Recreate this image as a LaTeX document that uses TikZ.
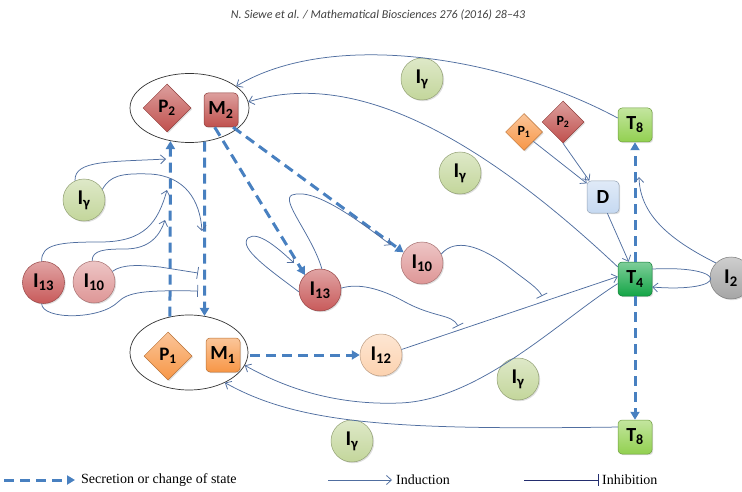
\documentclass[tikz,border=0pt]{standalone}
\usepackage{fontspec}
\setmainfont{Liberation Serif}
\setsansfont{Carlito}
\usetikzlibrary{shapes.geometric,arrows.meta,shadows}

\definecolor{redC}{RGB}{192,80,77}
\definecolor{redI}{RGB}{200,90,90}
\definecolor{pinkC}{RGB}{222,150,150}
\definecolor{orangeC}{RGB}{247,150,70}
\definecolor{peachC}{RGB}{252,210,175}
\definecolor{greenG}{RGB}{195,214,155}
\definecolor{greenT}{RGB}{146,208,80}
\definecolor{greenF}{RGB}{20,165,70}
\definecolor{blueD}{RGB}{198,217,241}
\definecolor{grayC}{RGB}{165,165,165}
\definecolor{lineblue}{RGB}{80,110,160}
\definecolor{dashblue}{RGB}{72,128,192}
\definecolor{navy}{RGB}{35,45,110}

\tikzset{
  cell/.style={draw=#1!75!black, line width=0.5pt, top color=#1!55!white,
    bottom color=#1, text=black, inner sep=0pt,
    drop shadow={opacity=0.25, shadow xshift=1.2pt, shadow yshift=-1.2pt}},
  ball/.style={cell=#1, circle, minimum size=42pt,
    font=\sffamily\bfseries\fontsize{21}{21}\selectfont},
  box/.style={cell=#1, rectangle, rounded corners=4pt, minimum size=34pt,
    font=\sffamily\bfseries\fontsize{20}{20}\selectfont},
  gem/.style={cell=#1, diamond, aspect=1, minimum size=48pt,
    font=\sffamily\bfseries\fontsize{19}{19}\selectfont},
  smallgem/.style={gem=#1, minimum size=37pt,
    font=\sffamily\bfseries\fontsize{14}{14}\selectfont},
  group/.style={ellipse, draw=black!80, line width=0.7pt, fill=white,
    inner sep=0pt},
  secr/.style={draw=dashblue, line width=3pt, dash pattern=on 10pt off 6pt,
    -{Triangle[length=8pt,width=9pt]}},
  ind/.style={draw=lineblue, line width=0.75pt,
    -{Straight Barb[length=5pt,width=9pt]}},
  inh/.style={draw=lineblue, line width=0.75pt, -{Bar[width=12pt]}},
}

\begin{document}
\begin{tikzpicture}[x=1pt,y=-1pt]
\useasboundingbox (0,0) rectangle (742,492);

\node[font=\sffamily\itshape\fontsize{12}{14}\selectfont, text=black!75] (hdr)
  at (378,15) {N. Siewe et al. / Mathematical Biosciences 276 (2016) 28–43};

\node[group, minimum width=119pt, minimum height=69pt] (grpTwo) at (189.5,108) {};
\node[group, minimum width=118pt, minimum height=75pt] (grpOne) at (189,352.5) {};

\node[gem=redC] (P2) at (167,108) {P\textsubscript{2}};
\node[box=redC] (M2) at (221,110) {M\textsubscript{2}};
\node[gem=orangeC] (P1) at (168,356) {P\textsubscript{1}};
\node[box=orangeC] (M1) at (223,355) {M\textsubscript{1}};

\node[ball=peachC] (I12) at (381,355) {I\textsubscript{12}};
\node[ball=greenG] (IgA) at (84,200) {I\textsubscript{γ}};
\node[ball=redI] (I13a) at (43.5,282.5) {I\textsubscript{13}};
\node[ball=pinkC] (I10a) at (94,282) {I\textsubscript{10}};
\node[ball=redI] (I13b) at (320,290) {I\textsubscript{13}};
\node[ball=pinkC] (I10b) at (422,263) {I\textsubscript{10}};
\node[ball=greenG] (IgB) at (422,79) {I\textsubscript{γ}};
\node[ball=greenG] (IgC) at (460,173) {I\textsubscript{γ}};
\node[ball=greenG] (IgD) at (518,379) {I\textsubscript{γ}};
\node[ball=greenG] (IgE) at (352,441) {I\textsubscript{γ}};

\node[box=greenT] (T8a) at (635,125) {T\textsubscript{8}};
\node[smallgem=orangeC] (P1s) at (524,132) {P\textsubscript{1}};
\node[smallgem=redC, minimum size=42pt] (P2s) at (563,122) {P\textsubscript{2}};
\node[box=blueD, minimum size=32pt, font=\sffamily\bfseries\fontsize{20}{20}\selectfont] (D) at (603,197) {D};
\node[box=greenF] (T4) at (635,279) {T\textsubscript{4}};
\node[ball=grayC] (I2) at (731,278) {I\textsubscript{2}};
\node[box=greenT] (T8b) at (635,437) {T\textsubscript{8}};

\coordinate (tgtA) at (166,159);
\coordinate (tgtB) at (202,231);
\coordinate (tgtC) at (167,190);
\coordinate (tgtD) at (165,220);
\coordinate (barE) at (198,273);
\coordinate (barF) at (198,291);
\coordinate (tgtG) at (294,263);
\coordinate (tgtH) at (391,245);
\coordinate (barI) at (542,296);
\coordinate (barJ) at (458,326);
\coordinate (tgtK) at (639,177);

\draw[secr] (grpOne.118) -- (grpTwo.240);
\draw[secr] (grpTwo.294) -- (grpOne.67);
\draw[secr] (M2.250) -- (I13b.135);
\draw[secr] (M2.-55) -- (I10b.150);
\draw[secr, shorten <=10pt] (M1.east) -- (I12.west);
\draw[secr] (T4.north) -- (T8a.south);
\draw[secr] (T4.south) -- (T8b.north);

\draw[ind] (IgA.115) .. controls (74,160) and (110,162) .. (tgtA);
\draw[ind] (IgA.30) .. controls (110,176) and (120,173) .. (150,174)
  .. controls (185,176) and (200,200) .. (tgtB);
\draw[ind] (I13a.95) .. controls (41,244) and (60,242) .. (100,242)
  .. controls (145,242) and (158,222) .. (tgtC);
\draw[ind] (I10a.95) .. controls (92,250) and (105,249) .. (125,249)
  .. controls (150,249) and (160,235) .. (tgtD);
\draw[inh] (I10a.30) .. controls (122,264) and (140,265) .. (160,267) -- (barE);
\draw[inh] (I13a.265) .. controls (42,320) and (100,320) .. (118,302)
  .. controls (128,292) and (145,290) .. (barF);

\draw[ind] (I13b.185) .. controls (270,270) and (238,248) .. (248,238)
  .. controls (258,230) and (280,250) .. (tgtG);
\draw[ind] (I13b.85) .. controls (312,235) and (280,200) .. (292,195)
  .. controls (315,187) and (360,222) .. (tgtH);
\draw[inh] (I10b.25) .. controls (455,238) and (480,245) .. (510,268)
  .. controls (528,282) and (538,288) .. (barI);
\draw[inh] (I13b.5) .. controls (358,283) and (380,288) .. (405,302)
  .. controls (435,318) and (452,314) .. (barJ);
\draw[ind] (I12.15) -- (T4.172);

\draw[ind] (T8a.158) .. controls (500,55) and (330,30) .. (grpTwo.25);
\draw[ind] (T4.145) .. controls (430,90) and (320,80) .. (grpTwo.6);
\draw[ind] (T4.195) .. controls (560,320) and (480,400) .. (400,403)
  .. controls (330,405.6) and (280,385) .. (grpOne.-13);
\draw[ind] (T8b.150) .. controls (400,430) and (300,425) .. (grpOne.-40);

\draw[ind] (D.-75) -- (T4.110);
\draw[ind] (P1s.south east) -- (D.140);
\draw[ind] (P2s.south) -- (D.130);
\draw[ind] (I2.135) .. controls (670,240) and (640,215) .. (tgtK);
\draw[ind] (T4.30) .. controls (730,265) and (730,293) .. (T4.-25);

\coordinate (legA) at (4,480);
\coordinate (legB) at (328,480);
\coordinate (legC) at (524,480);
\node[anchor=west, font=\fontsize{14}{16}\selectfont, inner sep=0pt] (legSec) at (81,480) {Secretion or change of state};
\node[anchor=west, font=\fontsize{14}{16}\selectfont, inner sep=0pt] (legInd) at (396,480) {Induction};
\node[anchor=west, font=\fontsize{14}{16}\selectfont, inner sep=0pt] (legInh) at (602,480) {Inhibition};
\draw[secr] (legA) -- ([xshift=-6pt]legSec.west);
\draw[ind] (legB) -- ([xshift=-4pt]legInd.west);
\draw[inh, draw=navy] (legC) -- ([xshift=-3pt]legInh.west);
\end{tikzpicture}
\end{document}
